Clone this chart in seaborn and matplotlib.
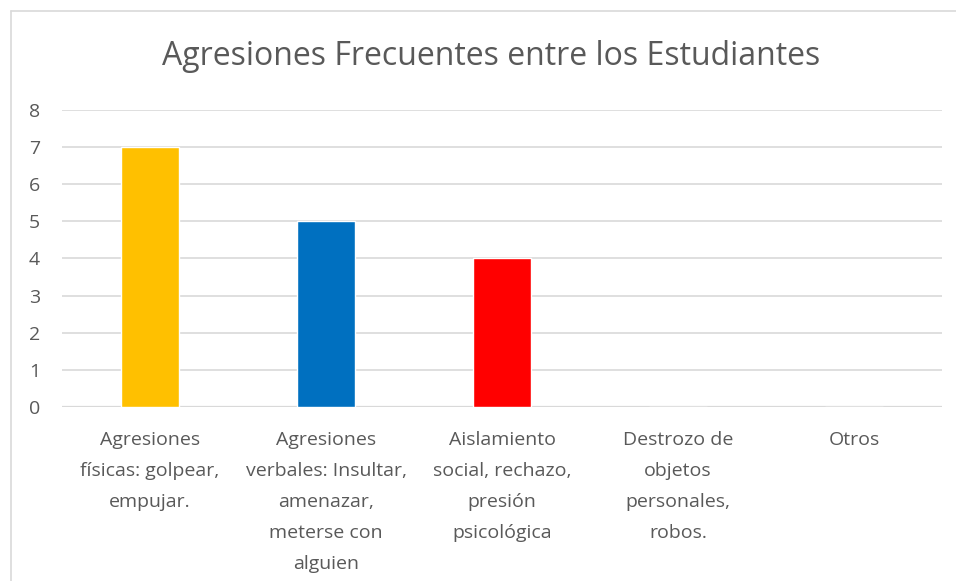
import matplotlib
matplotlib.use("Agg")
import matplotlib.pyplot as plt
import seaborn as sns
import pandas as pd
from matplotlib.lines import Line2D

# -----------------------------
# Data
# -----------------------------
categorias = [
    "Agresiones\nfísicas: golpear,\nempujar.",
    "Agresiones\nverbales: Insultar,\namenazar,\nmeterse con\nalguien",
    "Aislamiento\nsocial, rechazo,\npresión\npsicológica",
    "Destrozo de\nobjetos\npersonales,\nrobos.",
    "Otros",
]
valores = [7, 5, 4, 0, 0]
colores = ["#FFC000", "#0070C0", "#FF0000", "#A5A5A5", "#4472C4"]
titulo = "Agresiones Frecuentes entre los Estudiantes"

df = pd.DataFrame({"Categoria": categorias, "Valor": valores})

sns.set_style("white")
plt.rcParams["font.family"] = ["Open Sans", "DejaVu Sans"]

fig = plt.figure(figsize=(9.56, 5.81), dpi=100)
ax = fig.add_axes([0.0649, 0.2995, 0.9205, 0.5112])

sns.barplot(data=df, x="Categoria", y="Valor", hue="Categoria",
            palette=colores, width=0.325, legend=False, ax=ax,
            saturation=1, zorder=3)

ax.set_ylim(0, 8)
ax.set_xlim(-0.5, 4.5)
ax.set_yticks(range(0, 9))
ax.grid(axis="y", color="#D9D9D9", linewidth=1.2, zorder=0)
ax.axhline(0, color="#D9D9D9", linewidth=1.6, zorder=1)
for s in ax.spines.values():
    s.set_visible(False)
ax.tick_params(axis="both", length=0, labelsize=14, labelcolor="#595959")
ax.tick_params(axis="y", pad=16)
ax.tick_params(axis="x", pad=17)
for lbl in ax.get_xticklabels():
    lbl.set_linespacing(1.94)
ax.set_xlabel("")
ax.set_ylabel("")

fig.text(0.514, 0.903, titulo, ha="center", va="center",
         fontsize=23, color="#595959")

# chart frame (top and left edges visible)
fig.add_artist(Line2D([11/956, 1], [1 - 11/581, 1 - 11/581],
                      transform=fig.transFigure, color="#D9D9D9", lw=1.2))
fig.add_artist(Line2D([11/956, 11/956], [0, 1 - 11/581],
                      transform=fig.transFigure, color="#D9D9D9", lw=1.2))

fig.savefig("out.png", dpi=100)
